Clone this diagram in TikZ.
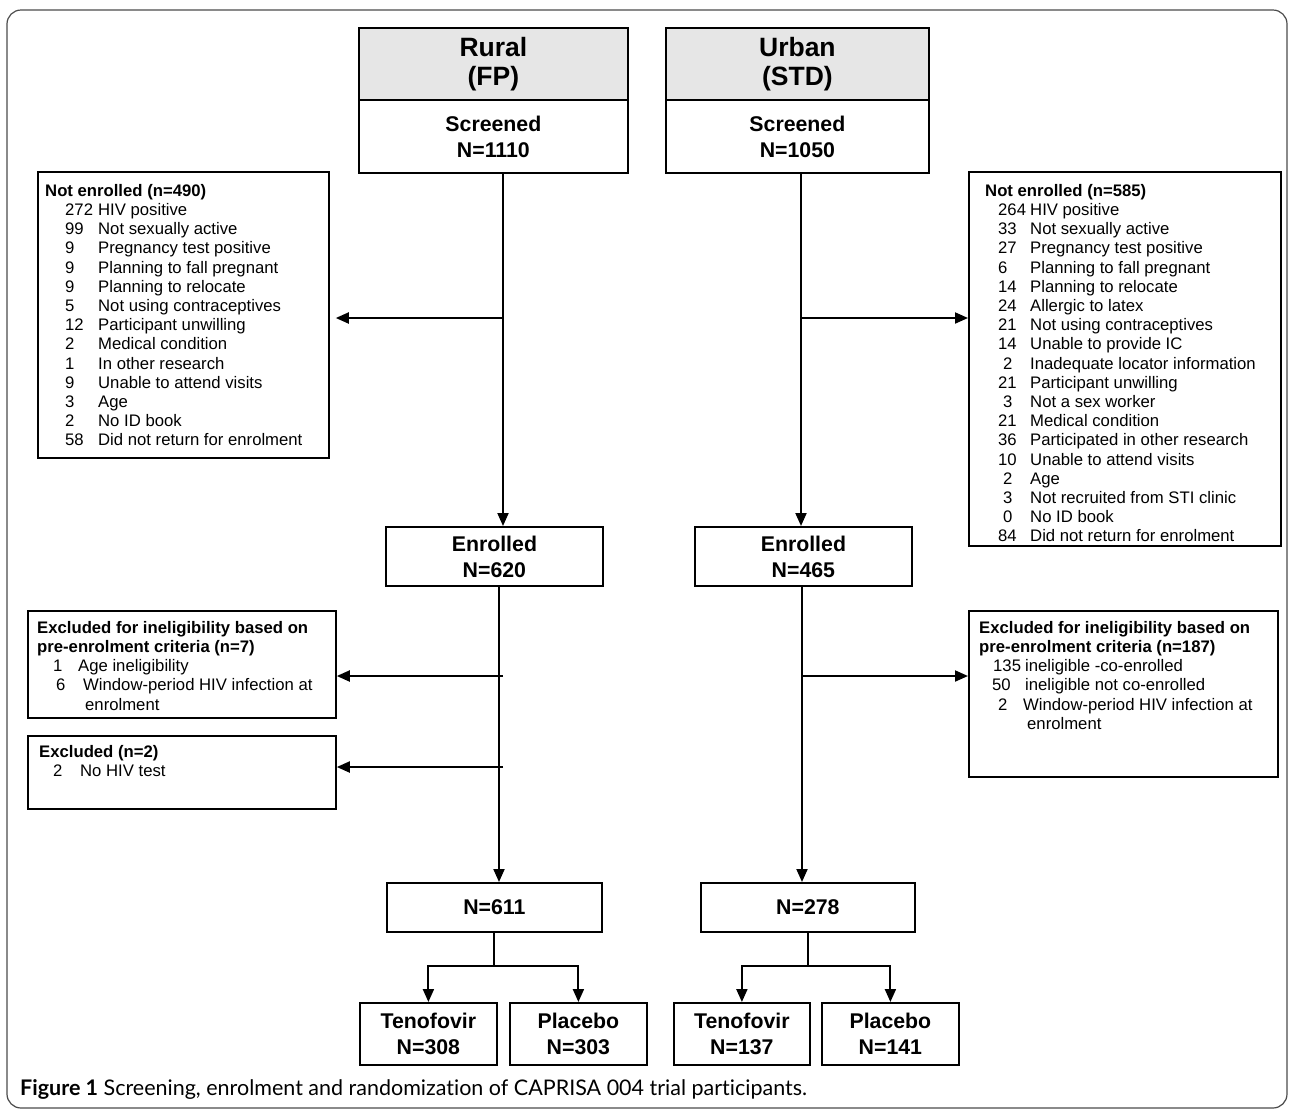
\documentclass[tikz,border=0pt]{standalone}
\usepackage{fontspec}
\setmainfont{Liberation Sans}
\newfontfamily\capfont[Ligatures=NoCommon]{Lato}
\usetikzlibrary{arrows.meta}
\definecolor{hdr}{HTML}{E6E6E6}
\newcommand\rowL[2]{\hspace*{20pt}\makebox[33pt][l]{#1}#2}
\newcommand\rowR[2]{\hspace*{13pt}\makebox[32pt][l]{#1}#2}
\newcommand\rowRi[2]{\hspace*{18pt}\makebox[27pt][l]{#1}#2}
\begin{document}
\begin{tikzpicture}[x=1pt,y=-1pt,
  box/.style={draw, line width=1.8pt, inner sep=0pt, anchor=north west},
  arr/.style={line width=2pt, -{Triangle[length=13pt,width=11pt]}},
  ln/.style={line width=2pt},
  big/.style={font=\fontsize{21.3}{26}\selectfont\bfseries, align=center},
  huge/.style={font=\fontsize{26.5}{29}\selectfont\bfseries, align=center},
  lst/.style={inner sep=0pt, anchor=north west, align=left, font=\fontsize{16.7}{19.2}\selectfont}]
\useasboundingbox (0,0) rectangle (1290,1112);
\draw[line width=1.2pt, draw=black!70, rounded corners=14pt] (7,10) rectangle (1287,1108);

% top boxes
\node[box, fill=hdr, minimum width=269pt, minimum height=72pt, huge] (rh) at (358,27) {Rural\\(FP)};
\node[box, minimum width=269pt, minimum height=73pt, big] (rs) at (358,99) {Screened\\N=1110};
\node[box, fill=hdr, minimum width=263pt, minimum height=72pt, huge] (uh) at (665,27) {Urban\\(STD)};
\node[box, minimum width=263pt, minimum height=73pt, big] (us) at (665,99) {Screened\\N=1050};

% not enrolled boxes
\node[box, minimum width=291pt, minimum height=286pt] (nel) at (37,171) {};
\node[lst] (nelt) at (45,184) {\textbf{Not enrolled (n=490)}\\
\rowL{272}{HIV positive}\\
\rowL{99}{Not sexually active}\\
\rowL{9}{Pregnancy test positive}\\
\rowL{9}{Planning to fall pregnant}\\
\rowL{9}{Planning to relocate}\\
\rowL{5}{Not using contraceptives}\\
\rowL{12}{Participant unwilling}\\
\rowL{2}{Medical condition}\\
\rowL{1}{In other research}\\
\rowL{9}{Unable to attend visits}\\
\rowL{3}{Age}\\
\rowL{2}{No ID book}\\
\rowL{58}{Did not return for enrolment}};

\node[box, minimum width=312pt, minimum height=374pt] (ner) at (968,171) {};
\node[lst] (nert) at (985,184) {\textbf{Not enrolled (n=585)}\\
\rowR{264}{HIV positive}\\
\rowR{33}{Not sexually active}\\
\rowR{27}{Pregnancy test positive}\\
\rowR{6}{Planning to fall pregnant}\\
\rowR{14}{Planning to relocate}\\
\rowR{24}{Allergic to latex}\\
\rowR{21}{Not using contraceptives}\\
\rowR{14}{Unable to provide IC}\\
\rowRi{2}{Inadequate locator information}\\
\rowR{21}{Participant unwilling}\\
\rowRi{3}{Not a sex worker}\\
\rowR{21}{Medical condition}\\
\rowR{36}{Participated in other research}\\
\rowR{10}{Unable to attend visits}\\
\rowRi{2}{Age}\\
\rowRi{3}{Not recruited from STI clinic}\\
\rowRi{0}{No ID book}\\
\rowR{84}{Did not return for enrolment}};

% enrolled
\node[box, minimum width=217pt, minimum height=59pt, big] (re) at (385,526) {Enrolled\\N=620};
\node[box, minimum width=217pt, minimum height=59pt, big] (ue) at (694,526) {Enrolled\\N=465};

% excluded boxes
\node[box, minimum width=308pt, minimum height=107pt] (exl1) at (27,610) {};
\node[lst] (exl1t) at (37,621) {\textbf{Excluded for ineligibility based on}\\
\textbf{pre-enrolment criteria (n=7)}\\
\hspace*{16pt}\makebox[25pt][l]{1}Age ineligibility\\
\hspace*{19pt}\makebox[27pt][l]{6}Window-period HIV infection at\\
\hspace*{48pt}enrolment};
\node[box, minimum width=308pt, minimum height=73pt] (exl2) at (27,735) {};
\node[lst] (exl2t) at (39,745) {\textbf{Excluded (n=2)}\\
\hspace*{14pt}\makebox[27pt][l]{2}No HIV test};
\node[box, minimum width=309pt, minimum height=166pt] (exr) at (968,610) {};
\node[lst] (exrt) at (979,621) {\textbf{Excluded for ineligibility based on}\\
\textbf{pre-enrolment criteria (n=187)}\\
\hspace*{14pt}\makebox[32pt][l]{135}ineligible -co-enrolled\\
\hspace*{13pt}\makebox[33pt][l]{50}ineligible not co-enrolled\\
\hspace*{19pt}\makebox[25pt][l]{2}Window-period HIV infection at\\
\hspace*{48pt}enrolment};

% randomised totals
\node[box, minimum width=215pt, minimum height=49pt, big] (n611) at (386,882) {N=611};
\node[box, minimum width=214pt, minimum height=49pt, big] (n278) at (700,882) {N=278};

% arms
\node[box, minimum width=137pt, minimum height=62pt, big] (t1) at (359,1002) {Tenofovir\\N=308};
\node[box, minimum width=137pt, minimum height=62pt, big] (p1) at (509,1002) {Placebo\\N=303};
\node[box, minimum width=136pt, minimum height=62pt, big] (t2) at (673,1002) {Tenofovir\\N=137};
\node[box, minimum width=137pt, minimum height=62pt, big] (p2) at (821,1002) {Placebo\\N=141};

% caption
\node[anchor=base west, inner sep=0pt, font=\capfont\fontsize{21.5}{24}\selectfont] (cap) at (20,1095)
 {\textbf{Figure 1} Screening, enrolment and randomization of CAPRISA 004 trial participants.};

% connectors
\coordinate (rx1) at (503,0);
\coordinate (rx2) at (499,0);
\coordinate (ux1) at (801,0);
\coordinate (ux2) at (802,0);
\coordinate (ya) at (0,318);
\coordinate (yb) at (0,676);
\coordinate (yc) at (0,767);
\coordinate (yj) at (0,966);

\draw[arr] (rs.south -| rx1) -- (re.north -| rx1);
\draw[arr, shorten >=6pt] (rx1 |- ya) -- (nel.east |- ya);
\draw[arr] (re.south -| rx2) -- (n611.north -| rx2);
\draw[arr] (rx1 |- yb) -- (exl1.east |- yb);
\draw[arr] (rx1 |- yc) -- (exl2.east |- yc);
\draw[ln] (n611.south) -- (n611.south |- yj);
\draw[arr] (n611.south |- yj) -| (t1.north);
\draw[arr] (n611.south |- yj) -| (p1.north);

\draw[arr] (us.south -| ux1) -- (ue.north -| ux1);
\draw[arr] (ux1 |- ya) -- (ner.west |- ya);
\draw[arr] (ue.south -| ux2) -- (n278.north -| ux2);
\draw[arr] (ux2 |- yb) -- (exr.west |- yb);
\draw[ln] (n278.south) -- (n278.south |- yj);
\draw[arr] (n278.south |- yj) -| (t2.north);
\draw[arr] (n278.south |- yj) -| (p2.north);
\end{tikzpicture}
\end{document}
